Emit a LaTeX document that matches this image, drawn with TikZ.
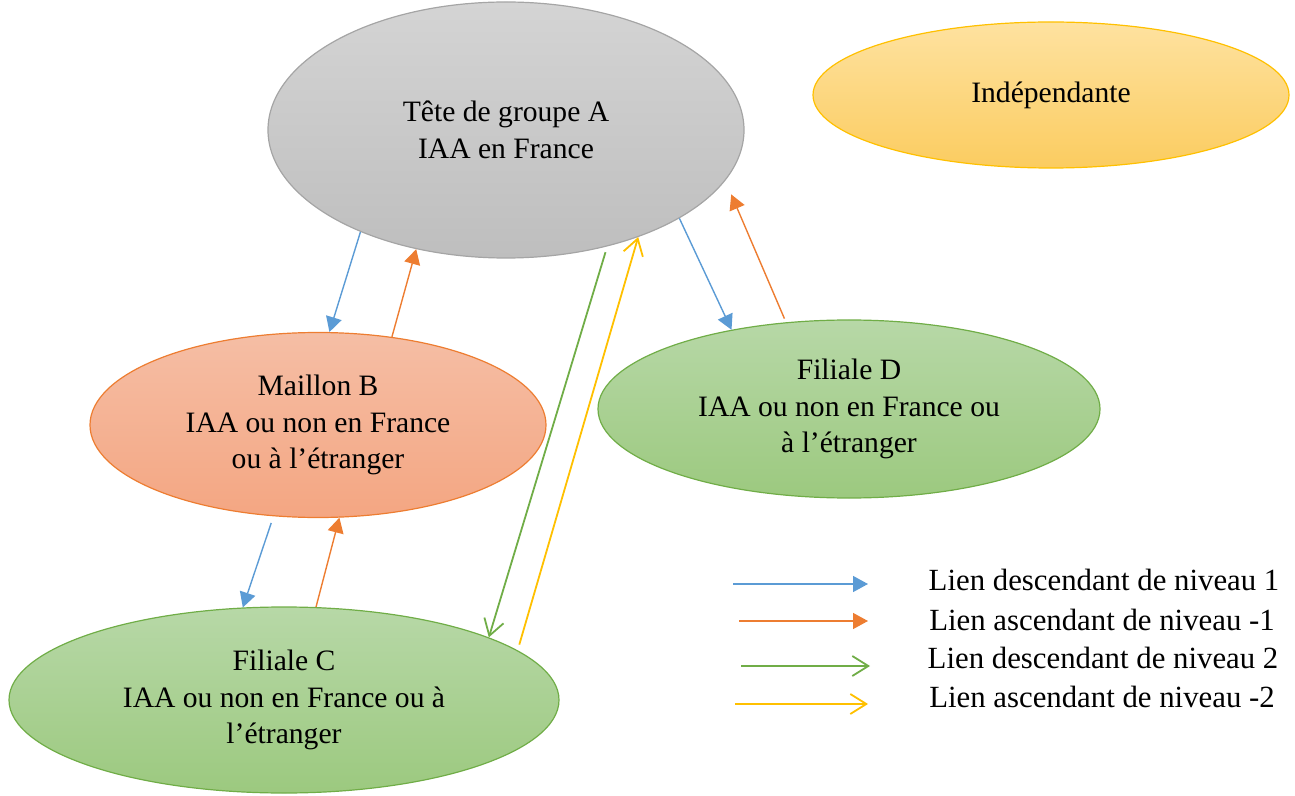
\documentclass[tikz,border=0pt]{standalone}
\usepackage{fontspec}
\setmainfont{Liberation Serif}
\usetikzlibrary{arrows.meta, shapes, positioning}
\usepackage{xcolor}
\definecolor{greyborder}{RGB}{165,165,165}
\definecolor{greytop}{RGB}{212,212,212}
\definecolor{greybottom}{RGB}{190,190,190}
\definecolor{goldborder}{RGB}{255,192,0}
\definecolor{goldtop}{RGB}{254,226,160}
\definecolor{goldbottom}{RGB}{251,204,96}
\definecolor{coralborder}{RGB}{237,125,49}
\definecolor{coraltop}{RGB}{245,190,165}
\definecolor{coralbottom}{RGB}{244,166,130}
\definecolor{leafborder}{RGB}{112,173,71}
\definecolor{leaftop}{RGB}{183,216,167}
\definecolor{leafbottom}{RGB}{156,201,127}
\definecolor{linkblue}{RGB}{91,155,213}
\definecolor{linkorange}{RGB}{237,125,49}
\definecolor{linkgreen}{RGB}{112,173,71}
\definecolor{linkgold}{RGB}{255,192,0}
\tikzset{ellipsenode/.style={ellipse, inner sep=0pt, align=center, line width=0.6pt, font=\fontsize{14.8pt}{18.2pt}\selectfont},legendtext/.style={inner sep=0pt, font=\fontsize{15.4pt}{18.4pt}\selectfont}}
\tikzset{greyellipse/.style={ellipsenode, draw=greyborder, top color=greytop, bottom color=greybottom},goldellipse/.style={ellipsenode, draw=goldborder, top color=goldtop, bottom color=goldbottom}}
\tikzset{coralellipse/.style={ellipsenode, draw=coralborder, top color=coraltop, bottom color=coralbottom},leafellipse/.style={ellipsenode, draw=leafborder, top color=leaftop, bottom color=leafbottom}}
\tikzset{bluearrow/.style={draw=linkblue, line width=0.7pt, -{Triangle[length=7.5pt, width=8pt]}},orangearrow/.style={draw=linkorange, line width=0.7pt, -{Triangle[length=7.5pt, width=8pt]}}}
\tikzset{greenarrow/.style={draw=linkgreen, line width=0.9pt, -{Straight Barb[length=8pt, width=10pt]}},goldarrow/.style={draw=linkgold, line width=0.9pt, -{Straight Barb[length=8pt, width=10pt]}}}

\begin{document}
\begin{tikzpicture}[x=0.5pt, y=-0.5pt]
        \useasboundingbox (0,0) rectangle (1295,796);
        % Entities
        \node[greyellipse, minimum width=238pt, minimum height=128pt] (tete) at (506,130) {Tête de groupe A\\IAA en France};
        \node[goldellipse, minimum width=238pt, minimum height=73pt] (indep) at (1051,95) {Indépendante};
        \node[coralellipse, minimum width=228pt, minimum height=92.5pt] (maillon) at (318,425) {Maillon B\\IAA ou non en France\\ou à l’étranger};
        \node[leafellipse, minimum width=251pt, minimum height=89pt] (filialed) at (849,409) {Filiale D\\IAA ou non en France ou\\à l’étranger};
        \node[leafellipse, minimum width=275pt, minimum height=93pt] (filialec) at (284,700) {Filiale C\\IAA ou non en France ou à\\l’étranger};
        % Links of level 1 / -1
        \draw[bluearrow] (tete.215) -- (maillon.83);
        \draw[orangearrow] (maillon.50) -- (tete.233);
        \draw[bluearrow] (tete.333) -- (filialed.146);
        \draw[orangearrow, shorten <=2pt, shorten >=7.5pt] (filialed.126) -- (tete.347);
        \draw[bluearrow, shorten <=3.5pt] (maillon.244) -- (filialec.114);
        \draw[orangearrow] (filialec.71) -- (maillon.283);
        % Links of level 2 / -2
        \draw[greenarrow, shorten <=3pt] (tete.311) -- (filialec.17);
        \draw[goldarrow, shorten <=3pt] (filialec.12) -- (tete.321);
        % Caption
        \foreach \i/\xstart/\xtip/\yline/\xmid/\ybase/\linkstyle/\linktext in {
            1/733/868/584/1104/590/bluearrow/Lien descendant de niveau 1,
            2/739/868/621/1102/630/orangearrow/Lien ascendant de niveau -1,
            3/741/870/666/1103/668/greenarrow/Lien descendant de niveau 2,
            4/735/868/704/1102/707/goldarrow/Lien ascendant de niveau -2} {
            \coordinate (legstart\i) at (\xstart,\yline);
            \coordinate (legtip\i) at (\xtip,\yline);
            \draw[\linkstyle] (legstart\i) -- (legtip\i);
            \node[legendtext, anchor=base] (legtext\i) at (\xmid,\ybase) {\linktext};
        }
    \end{tikzpicture}
\end{document}
